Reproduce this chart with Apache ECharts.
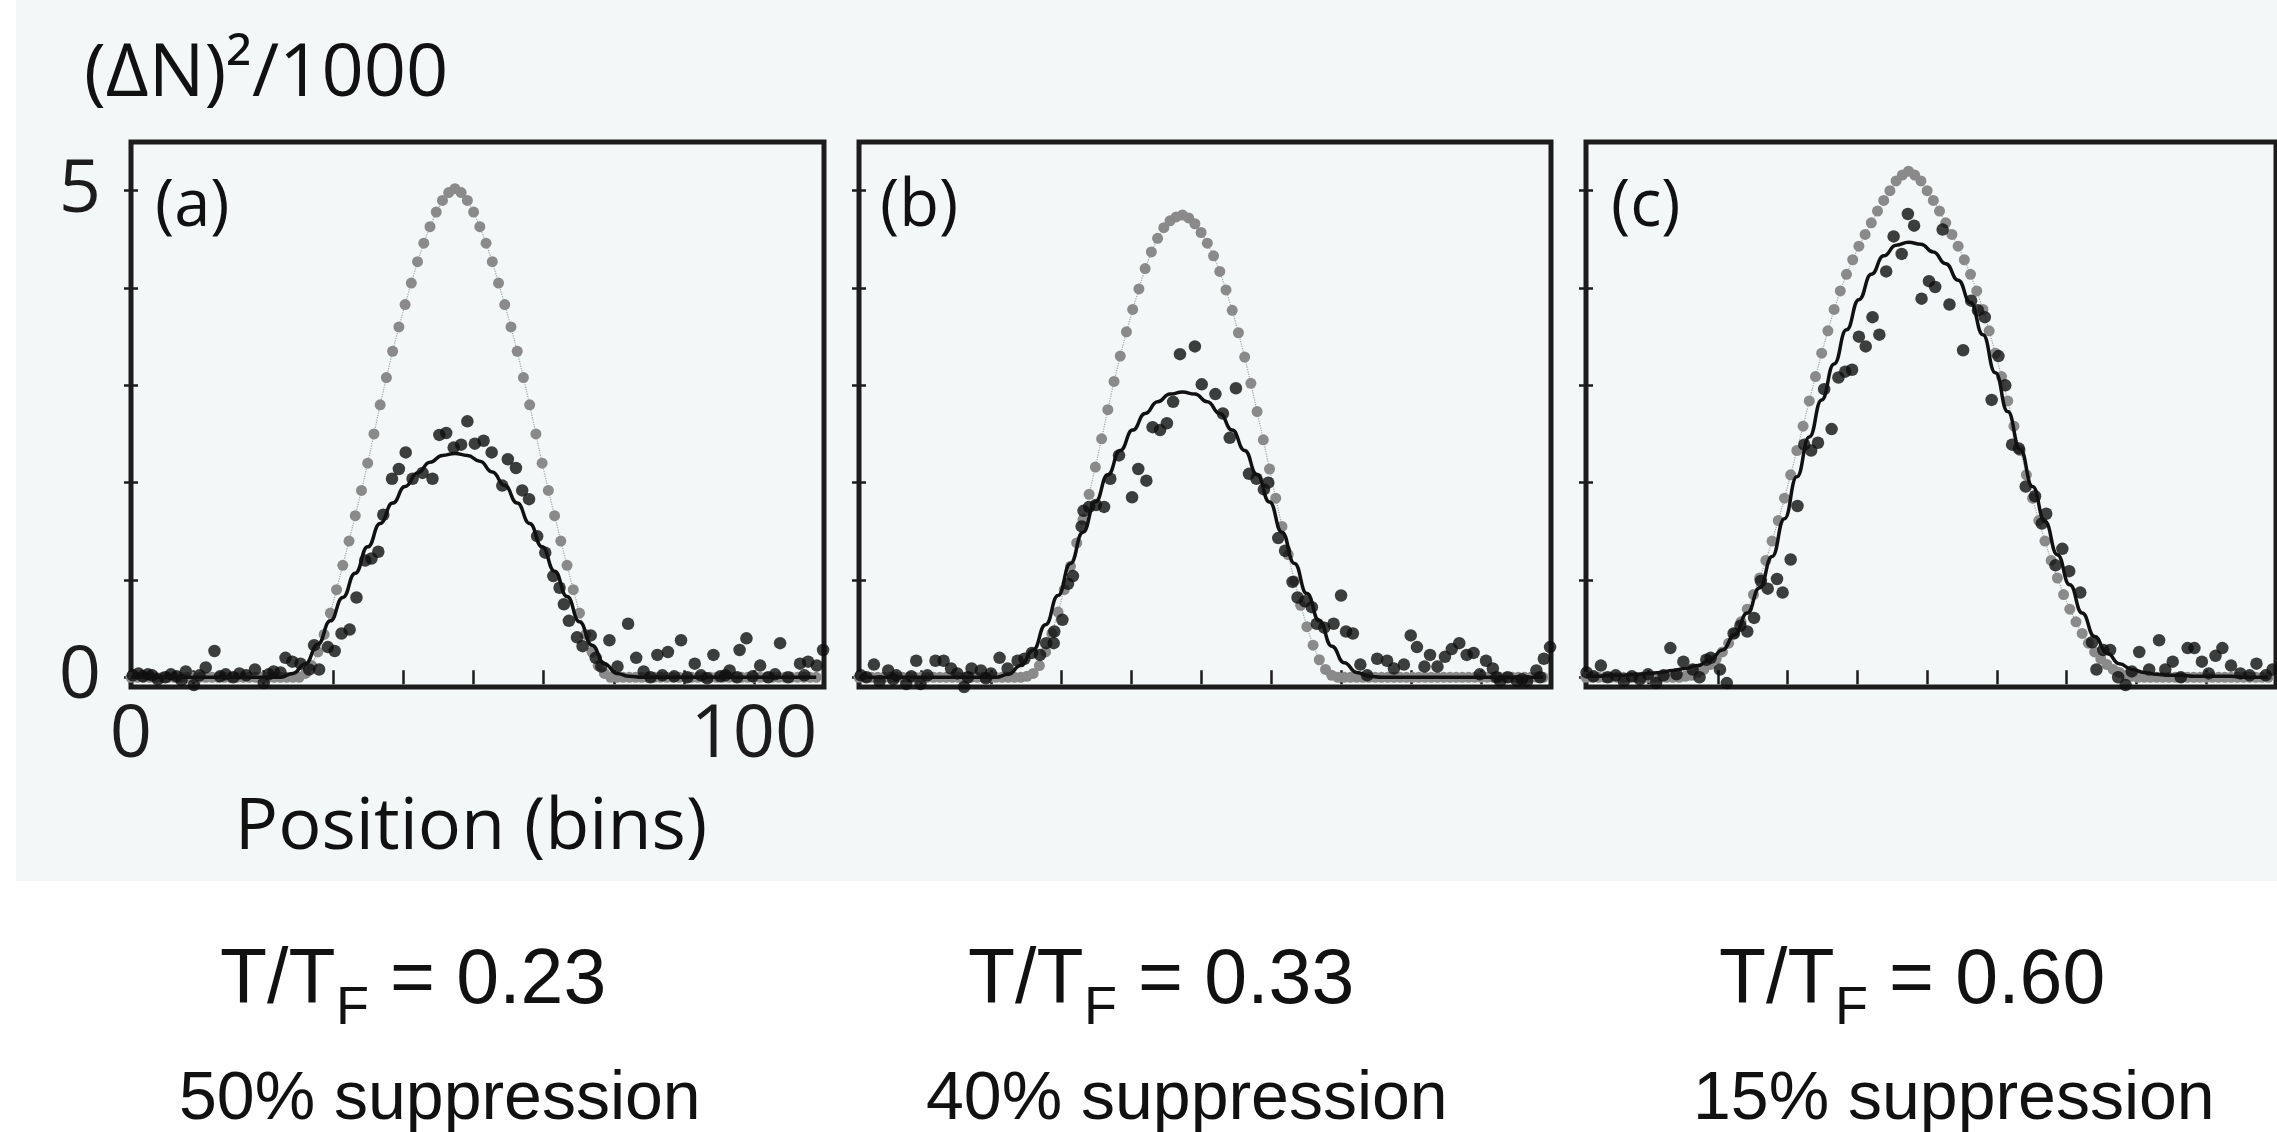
<!DOCTYPE html>
<html>
<head>
<meta charset="utf-8">
<script src="https://cdn.jsdelivr.net/npm/echarts@6/dist/echarts.min.js"></script>
<style>
  html, body { margin: 0; padding: 0; background: #ffffff; }
  #chart { width: 2277px; height: 1132px; }
</style>
</head>
<body>
<div id="chart"></div>
<script>
var chartDom = document.getElementById('chart');
var myChart = echarts.init(chartDom);

// axis ranges and ticks (bins / (ΔN)^2 in thousands)
var xMax = 111.25;
var yMin = -0.1;
var yMax = 5.5;
var xTicks = [10, 21.25, 32.5, 43.75, 55, 66.25, 77.5, 88.75, 100, 111.25];
var yTicks = [0, 1, 2, 3, 4, 5];
var xLabels = [0, 100];
var yLabels = [0, 5];

var panelNames = ['(a)', '(b)', '(c)'];
var tempLabels = ['= 0.23', '= 0.33', '= 0.60'];
var suppLabels = ['50% suppression', '40% suppression', '15% suppression'];

// gray points: one value per bin, bins 0..110
var grayA = [0,0,0,0,0,0,0,0,0,0,0,0,0,0,0,0,0,0,0,0,0,0,0,0,0,0,0,0,
  0.04,0.12,0.26,0.44,0.66,0.90,1.15,1.40,1.66,1.92,2.20,2.50,2.80,3.08,3.35,3.60,3.83,4.05,4.27,4.46,4.63,4.78,4.90,4.98,
  5.02,
  4.98,4.90,4.78,4.63,4.46,4.27,4.05,3.83,3.60,3.35,3.08,2.80,2.50,2.20,1.92,1.66,1.40,1.15,0.90,0.66,0.44,0.26,0.12,0.04,
  0,0,0,0,0,0,0,0,0,0,0,0,0,0,0,0,0,0,0,0,0,0,0,0,0,0,0,0,0,0,0,0,0,0];
var grayB = [0,0,0,0,0,0,0,0,0,0,0,0,0,0,0,0,0,0,0,0,0,0,0,0,0,0,0,
  0.01,0.04,0.12,0.26,0.45,0.67,0.90,1.14,1.38,1.62,1.88,2.16,2.45,2.75,3.04,3.30,3.55,3.78,3.99,4.20,4.37,4.51,4.62,4.69,4.73,
  4.75,
  4.72,4.66,4.57,4.46,4.33,4.17,3.98,3.77,3.54,3.29,3.02,2.73,2.44,2.14,1.84,1.55,1.26,0.99,0.74,0.52,0.33,0.18,0.08,0.02,
  0,0,0,0,0,0,0,0,0,0,0,0,0,0,0,0,0,0,0,0,0,0,0,0,0,0,0,0,0,0,0,0,0,0];
var grayC = [0,0,0,0,0,0,0,0,0,0,0,0,0,0,0,0,
  0.01,0.02,0.05,0.08,0.13,0.19,0.26,0.35,0.45,0.57,0.70,0.85,1.02,1.20,1.40,1.61,1.84,2.08,2.33,2.58,2.84,3.09,3.33,3.56,3.78,3.97,4.14,4.29,4.43,4.55,4.67,4.79,4.90,5.00,5.10,5.16,
  5.20,
  5.16,5.10,5.00,4.90,4.79,4.67,4.55,4.43,4.29,4.14,3.97,3.78,3.56,3.33,3.09,2.84,2.58,2.33,2.08,1.84,1.61,1.40,1.20,1.02,0.85,0.70,0.57,0.45,0.35,0.26,0.19,0.13,0.08,0.05,0.02,0.01,
  0,0,0,0,0,0,0,0,0,0,0,0,0,0,0,0,0,0,0,0,0,0];

// fitted curves: one value every 2 bins, bins 0..110
var fitA = [0,0,0,0,0,0,0,0,0,0,0,0,0,
  0.04,0.14,0.34,0.58,0.82,1.07,1.34,1.58,1.79,1.96,2.10,2.21,2.28,2.30,2.28,2.22,2.11,1.97,1.79,1.58,1.34,1.09,0.83,0.57,0.33,0.14,0.04,0.01,
  0,0,0,0,0,0,0,0,0,0,0,0,0,0,0];
var fitB = [0,0,0,0,0,0,0,0,0,0,0,0,
  0.03,0.12,0.28,0.54,0.84,1.17,1.49,1.80,2.08,2.33,2.54,2.71,2.83,2.91,2.93,2.91,2.83,2.71,2.54,2.33,2.08,1.80,1.49,1.17,0.86,0.58,0.32,0.15,0.05,0.01,
  0,0,0,0,0,0,0,0,0,0,0,0,0,0];
var fitC = [0.01,0.01,0.02,0.02,0.03,0.04,0.05,0.07,0.09,0.12,
  0.18,0.28,0.44,0.66,0.92,1.24,1.63,2.06,2.47,2.85,
  3.22,3.57,3.88,4.14,4.33,4.44,4.47,4.45,4.37,4.25,
  4.08,3.85,3.52,3.13,2.73,2.34,1.96,1.60,1.26,0.95,
  0.66,0.42,0.25,0.14,0.08,0.05,0.03,0.02,0.02,0.01,
  0.01,0.01,0.01,0,0,0];

// measured points [bin, value]
var blackA = [[0.3,0.02],[1.2,0.04],[1.9,0.01],[2.7,0.03],[3.4,0.02],[4.3,-0.02],[5.5,0.0],[6.4,0.03],[7.3,0.01],[8.1,-0.03],
  [8.8,0.06],[10.1,-0.08],[11.0,0.02],[12.0,0.10],[13.4,0.27],[14.3,0.01],[15.2,0.03],[16.4,0.0],[17.4,0.04],[18.5,0.02],
  [19.9,0.08],[21.3,-0.06],[22.1,0.03],[22.9,0.06],[24.0,0.05],[24.8,0.20],[25.9,0.16],[27.2,0.14],[28.6,0.08],[29.4,0.33],
  [30.2,0.08],[31.6,0.31],[32.7,0.27],[33.8,0.45],[35.1,0.49],[36.2,0.82],[37.6,1.20],[38.6,1.22],[39.7,1.29],[40.5,1.67],
  [41.9,2.04],[43.0,2.14],[44.1,2.31],[45.2,2.04],[46.8,2.10],[48.4,2.04],[49.5,2.49],[50.6,2.51],[51.8,2.36],[53.0,2.39],
  [54.0,2.63],[55.2,2.40],[56.6,2.43],[57.9,2.31],[59.6,1.97],[60.5,2.24],[61.8,2.15],[62.8,1.92],[63.9,1.83],[65.2,1.45],
  [66.5,1.28],[67.8,1.04],[68.8,0.92],[69.5,0.75],[70.3,0.58],[71.6,0.41],[72.5,0.32],[73.8,0.43],[74.6,0.20],[75.5,0.11],
  [76.8,0.38],[78.1,0.11],[79.8,0.55],[81.1,0.20],[82.3,0.06],[83.4,0.0],[84.5,0.23],[85.3,0.02],[86.2,0.26],[87.2,0.01],
  [88.3,0.38],[89.3,0.0],[90.5,0.14],[91.5,0.02],[92.5,-0.01],[93.5,0.23],[94.6,0.01],[95.4,0.02],[96.1,0.07],[97.3,0.0],
  [97.7,0.28],[98.8,0.40],[99.8,0.01],[101.0,0.12],[102.3,0.0],[103.4,0.03],[104.2,0.35],[105.5,0.0],[107.4,0.14],[108.1,0.02],
  [108.7,0.16],[110.1,0.12],[111.1,0.28]];
var blackB = [[0.3,0.02],[1.2,0.0],[2.4,0.13],[3.3,-0.04],[4.7,0.07],[5.5,-0.02],[6.0,0.02],[7.6,-0.07],[8.4,0.01],[9.2,0.17],
  [9.9,-0.07],[11.0,0.02],[12.3,0.17],[13.6,0.17],[14.8,0.09],[15.8,0.04],[16.9,-0.10],[17.5,0.0],[18.1,0.09],[19.6,0.07],
  [20.4,-0.01],[21.2,0.04],[22.6,0.20],[23.9,0.09],[25.5,0.17],[26.6,0.19],[27.8,0.25],[29.1,0.23],[30.1,0.35],[31.3,0.35],
  [31.4,0.47],[32.7,0.59],[33.6,0.96],[34.4,1.04],[35.8,1.55],[36.1,1.71],[37.0,1.75],[38.1,1.77],[39.4,1.75],[40.4,2.04],
  [41.8,2.28],[43.9,1.85],[44.9,2.14],[46.2,2.02],[47.2,2.57],[48.4,2.54],[49.5,2.61],[50.5,2.83],[51.6,3.32],[54.0,3.40],
  [55.1,3.01],[57.3,2.91],[58.5,2.71],[59.6,2.46],[60.6,2.97],[62.7,2.09],[63.9,2.04],[65.1,1.93],[65.8,2.00],[67.4,1.43],
  [68.5,1.30],[69.7,0.98],[70.5,0.82],[71.7,0.78],[72.8,0.72],[73.6,0.55],[74.8,0.51],[76.3,0.55],[77.5,0.84],[78.3,0.47],
  [79.4,0.45],[80.6,0.13],[81.7,0.02],[83.3,0.19],[84.9,0.17],[86.0,0.09],[87.6,0.13],[88.7,0.43],[89.7,0.31],[90.9,0.11],
  [91.8,0.23],[93.0,0.11],[94.2,0.21],[95.3,0.29],[96.5,0.35],[97.7,0.23],[98.8,0.25],[99.8,0.03],[100.8,0.17],[101.9,0.09],
  [102.5,0.0],[103.1,-0.04],[104.3,0.0],[105.8,-0.04],[106.6,-0.02],[107.4,-0.04],[108.9,0.07],[109.5,0.0],[110.1,0.19],[111.1,0.31]];
var blackC = [[0.1,0.05],[1.2,0.01],[2.4,0.12],[3.5,0.0],[4.8,0.02],[6.1,-0.04],[7.4,0.01],[8.7,-0.02],[10.0,0.03],[11.3,-0.06],
  [12.5,0.02],[13.6,0.30],[14.6,0.03],[15.7,0.16],[17.2,0.08],[18.3,0.0],[19.4,0.18],[20.1,0.20],[21.6,0.08],[22.7,-0.06],
  [23.8,0.45],[24.9,0.53],[26.0,0.47],[27.1,0.61],[28.2,0.99],[29.3,0.91],[30.8,1.01],[31.7,0.87],[33.0,1.21],[34.1,1.76],
  [35.2,2.39],[36.3,2.33],[37.4,2.41],[38.4,2.96],[39.6,2.55],[40.7,3.08],[41.8,3.14],[42.9,3.16],[44.0,3.50],[45.1,3.40],
  [46.2,3.70],[47.3,3.52],[48.4,4.17],[49.6,4.53],[50.9,4.35],[51.9,4.76],[52.9,4.64],[54.1,3.89],[55.3,4.07],[56.3,4.01],
  [57.5,4.60],[58.6,3.83],[60.8,3.36],[62.1,3.87],[63.2,3.77],[64.3,3.70],[65.4,2.85],[66.5,3.30],[67.6,3.00],[68.7,2.39],
  [69.8,2.35],[70.9,1.96],[72.4,1.86],[73.5,1.58],[74.2,1.68],[75.7,1.15],[76.8,1.32],[77.9,1.09],[79.7,0.87],[81.6,0.36],
  [82.3,0.08],[83.4,0.28],[84.5,0.28],[85.8,0.0],[87.0,-0.08],[88.0,0.06],[89.2,0.26],[90.8,0.08],[92.4,0.38],[93.4,0.08],
  [94.6,0.16],[95.9,0.0],[97.0,0.30],[98.1,0.30],[99.3,0.16],[100.4,0.04],[101.5,0.22],[102.6,0.30],[104.0,0.12],[105.5,0.04],
  [107.0,0.02],[108.1,0.14],[109.6,0.02],[110.7,0.08]];

var grays = [grayA, grayB, grayC];
var fits = [fitA, fitB, fitC];
var blacks = [blackA, blackB, blackC];

var gridBoxes = [
  { left: 131, top: 142, width: 693, height: 545 },
  { left: 859, top: 142, width: 692, height: 545 },
  { left: 1586, top: 142, width: 690, height: 545 }
];
var textX = [0, 748, 1499];
var suppX = [179, 926, 1693];
var panelLabelX = [155, 880, 1611];

var ink = '#1c1c1c';
var tickStyle = { inside: true, length: 7, lineStyle: { color: ink, width: 2.5 } };

var grids = [], xAxes = [], yAxes = [], series = [];
gridBoxes.forEach(function (g, i) {
  grids.push({
    left: g.left, top: g.top, width: g.width, height: g.height,
    show: true, borderColor: ink, borderWidth: 5, backgroundColor: 'transparent',
    containLabel: false, outerBoundsMode: 'none'
  });
  ['bottom', 'top'].forEach(function (pos) {
    var withLabels = (i === 0 && pos === 'bottom');
    xAxes.push({
      type: 'value', gridIndex: i, position: pos, min: 0, max: xMax,
      axisLine: { show: false }, splitLine: { show: false },
      axisTick: Object.assign({ customValues: xTicks }, tickStyle),
      axisLabel: {
        show: withLabels, customValues: xLabels, showMinLabel: true, showMaxLabel: true,
        margin: 12, fontSize: 74, fontFamily: 'Open Sans', color: ink
      }
    });
  });
  ['left', 'right'].forEach(function (pos) {
    var withLabels = (i === 0 && pos === 'left');
    yAxes.push({
      type: 'value', gridIndex: i, position: pos, min: yMin, max: yMax,
      axisLine: { show: false }, splitLine: { show: false },
      axisTick: Object.assign({ customValues: yTicks }, tickStyle),
      axisLabel: {
        show: withLabels, customValues: yLabels, showMinLabel: true, showMaxLabel: true,
        margin: 30, fontSize: 74, fontFamily: 'Open Sans', color: ink
      }
    });
  });

  series.push({
    type: 'line', xAxisIndex: 2 * i, yAxisIndex: 2 * i,
    data: grays[i].map(function (v, k) { return [k, v]; }),
    symbol: 'circle', symbolSize: 11, showSymbol: true, showAllSymbol: true,
    itemStyle: { color: '#8a8a8a' },
    lineStyle: { color: '#a5a5a5', width: 1.2, type: 'dotted' },
    silent: true, z: 2
  });
  series.push({
    type: 'scatter', xAxisIndex: 2 * i, yAxisIndex: 2 * i,
    data: blacks[i], symbol: 'circle', symbolSize: 12.5,
    itemStyle: { color: '#0e0e0e' }, silent: true, z: 3
  });
  series.push({
    type: 'line', xAxisIndex: 2 * i, yAxisIndex: 2 * i,
    data: fits[i].map(function (v, k) { return [2 * k, v]; }),
    symbol: 'none', smooth: 0.5, smoothMonotone: 'x',
    lineStyle: { color: '#111111', width: 3.5 }, silent: true, z: 4
  });
});

function txt(text, x, y, size, family, align) {
  return {
    type: 'text', x: x, y: y, silent: true, z: 10,
    style: {
      text: text, fill: '#111111',
      font: size + 'px "' + family + '"',
      align: align || 'left', verticalAlign: 'middle',
      textAlign: align || 'left', textVerticalAlign: 'middle'
    }
  };
}

var graphics = [
  { type: 'rect', z: -10, silent: true, shape: { x: 16, y: 0, width: 2261, height: 881 }, style: { fill: '#f4f7f7' } },
  txt('(\u0394N)\u00B2/1000', 84, 75, 74, 'Open Sans'),
  txt('Position (bins)', 471, 828, 72, 'Open Sans', 'center')
];
for (var i = 0; i < 3; i++) {
  graphics.push(txt(panelNames[i], panelLabelX[i], 207, 65, 'Open Sans'));
  graphics.push(txt('T/T', 220 + textX[i], 982, 77, 'Liberation Sans'));
  graphics.push(txt('F', 336 + textX[i], 1009, 54, 'Liberation Sans'));
  graphics.push(txt(tempLabels[i], 390 + textX[i], 982, 77, 'Liberation Sans'));
  graphics.push(txt(suppLabels[i], suppX[i], 1100, 68, 'Liberation Sans'));
}

var option = {
  backgroundColor: '#ffffff',
  animation: false,
  grid: grids,
  xAxis: xAxes,
  yAxis: yAxes,
  series: series,
  graphic: graphics
};

option && myChart.setOption(option);
</script>
</body>
</html>
